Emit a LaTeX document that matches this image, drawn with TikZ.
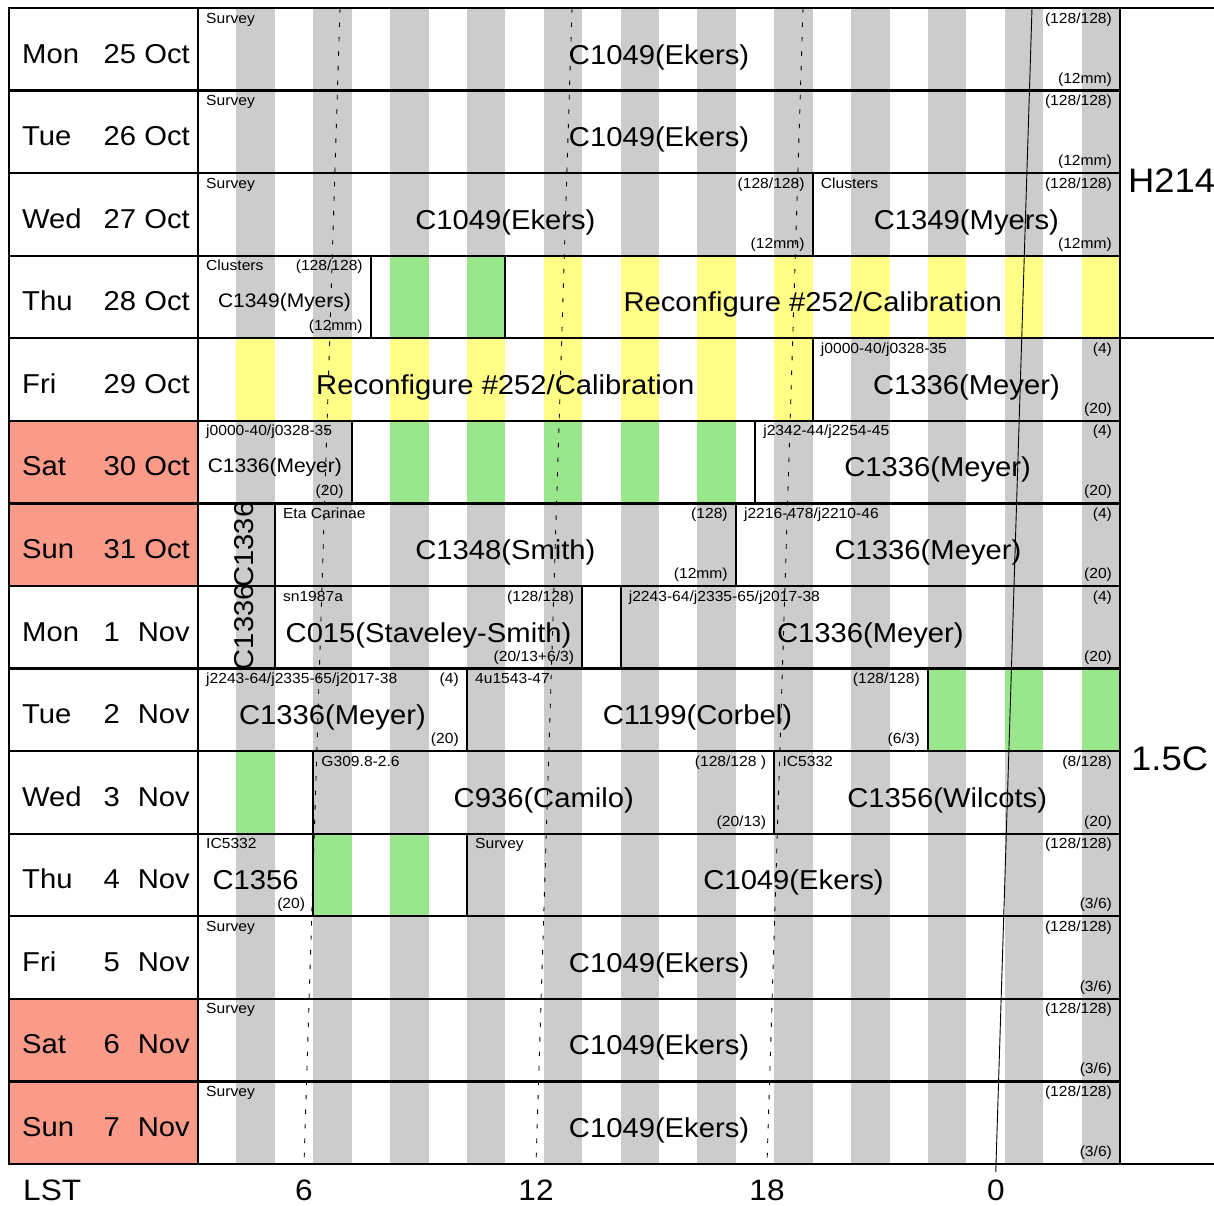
\documentclass[tikz,border=0pt]{standalone}
\usepackage{fontspec}
\setmainfont{Liberation Sans}[FakeStretch=1.07]

\definecolor{weekend}{HTML}{FA9A88}
\definecolor{stripegray}{HTML}{CCCCCC}
\definecolor{freegreen}{HTML}{99E68C}
\definecolor{calyellow}{HTML}{FFFF88}

% hour -> x, row -> y (pixels)
\newcommand{\hx}[1]{198+38.42*(#1)}
\newcommand{\ry}[1]{8+82.57*(#1)}

\tikzset{
	frameline/.style={line width=2.2pt, line cap=rect},
	lstline/.style={line width=0.9pt, dash pattern=on 4.5pt off 10pt},
	smalltext/.style={font=\fontsize{14.6}{17}\selectfont, inner sep=0pt},
	bigtext/.style={font=\fontsize{27.3}{32}\selectfont, inner sep=0pt},
	prjbig/.style={bigtext, anchor=base},
	prjmed/.style={font=\fontsize{19.6}{23}\selectfont, inner sep=0pt, anchor=base, yshift=4pt},
	axistext/.style={font=\fontsize{29.5}{35}\selectfont, inner sep=0pt, anchor=base},
	cfgtext/.style={font=\fontsize{34}{40}\selectfont, inner sep=0pt, anchor=base west},
}

% free time or reconfiguration: white, with coloured hour stripes
\newcommand{\band}[4]{%
	\fill[white] ({\hx{#2}},{\ry{#1}}) rectangle ({\hx{#3}},{\ry{#1+1}});
	\begin{scope}
		\clip ({\hx{#2}},{\ry{#1}}) rectangle ({\hx{#3}},{\ry{#1+1}});
		\foreach \k in {1,3,...,23}
			\fill[#4] ({\hx{\k}},{\ry{#1}}) rectangle ({\hx{\k+1}},{\ry{#1+1}});
	\end{scope}}

% one block: [style] name, row, from, to, source, top right, bottom right, project
\newcommand{\obs}[9][prjbig]{%
	\coordinate (#2) at ({\hx{#4}},{\ry{#3}});
	\coordinate (#2-se) at ({\hx{#5}},{\ry{#3+1}});
	\draw[frameline] (#2) rectangle (#2-se);
	\node[smalltext, anchor=base west] (#2-src) at ({\hx{#4}+8},{\ry{#3}+15}) {#6};
	\node[smalltext, anchor=base east] (#2-cfg) at ({\hx{#5}-8},{\ry{#3}+15}) {#7};
	\node[smalltext, anchor=base east] (#2-bw) at ({\hx{#5}-8},{\ry{#3}+75}) {#8};
	\node[#1] (#2-prj) at ({(\hx{#4}+\hx{#5})/2},{\ry{#3}+56}) {#9};}

\begin{document}
\begin{tikzpicture}[x=1pt, y=-1pt]
	\useasboundingbox (0,0) rectangle (1214,1205);

	% Weekend cells
	\foreach \r in {5,6,12,13}
		\fill[weekend] (9,{\ry{\r}}) rectangle (198,{\ry{\r+1}});

	% Hour stripes
	\foreach \k in {1,3,...,23}
		\fill[stripegray] ({\hx{\k}},8) rectangle ({\hx{\k+1}},1164);

	% Free time and reconfiguration
	\band{3}{4.5}{8}{freegreen}
	\band{3}{8}{24}{calyellow}
	\band{4}{0}{16}{calyellow}
	\band{5}{4}{14.5}{freegreen}
	\band{7}{10}{11}{freegreen}
	\band{8}{19}{24}{freegreen}
	\band{9}{0}{3}{freegreen}
	\band{10}{3}{7}{freegreen}

	% LST lines
	\foreach \x in {304,536,767}
		\draw[lstline] ({\x+36},8) -- (\x,1164);
	\draw[line width=0.9pt] (1032,8) -- (995.75,1172);

	% Grid
	\foreach \r in {0,...,14}
		\draw[frameline] (9,{\ry{\r}}) -- (1120,{\ry{\r}});
	\draw[frameline] (1120,8) -- (1214,8);
	\draw[frameline] (1120,{\ry{4}}) -- (1214,{\ry{4}});
	\draw[frameline] (1120,1164) -- (1214,1164);
	\foreach \x in {9,198,1120}
		\draw[frameline] (\x,8) -- (\x,1164);

	% Blocks
	\obs{mon25}{0}{0}{24}{Survey}{(128/128)}{(12mm)}{C1049(Ekers)}
	\obs{tue26}{1}{0}{24}{Survey}{(128/128)}{(12mm)}{C1049(Ekers)}
	\obs{wed27a}{2}{0}{16}{Survey}{(128/128)}{(12mm)}{C1049(Ekers)}
	\obs{wed27b}{2}{16}{24}{Clusters}{(128/128)}{(12mm)}{C1349(Myers)}
	\obs[prjmed]{thu28a}{3}{0}{4.5}{Clusters}{(128/128)}{(12mm)}{C1349(Myers)}
	\obs{thu28b}{3}{8}{24}{}{}{}{Reconfigure \#252/Calibration}
	\obs{fri29a}{4}{0}{16}{}{}{}{Reconfigure \#252/Calibration}
	\obs{fri29b}{4}{16}{24}{j0000-40/j0328-35}{(4)}{(20)}{C1336(Meyer)}
	\obs[prjmed]{sat30a}{5}{0}{4}{j0000-40/j0328-35}{}{(20)}{C1336(Meyer)}
	\obs{sat30b}{5}{14.5}{24}{j2342-44/j2254-45}{(4)}{(20)}{C1336(Meyer)}
	\obs{sun31a}{6}{0}{2}{}{}{}{}
	\obs{sun31b}{6}{2}{14}{Eta Carinae}{(128)}{(12mm)}{C1348(Smith)}
	\obs{sun31c}{6}{14}{24}{j2216-478/j2210-46}{(4)}{(20)}{C1336(Meyer)}
	\obs{mon1a}{7}{0}{2}{}{}{}{}
	\obs{mon1b}{7}{2}{10}{sn1987a}{(128/128)}{(20/13+6/3)}{C015(Staveley-Smith)}
	\obs{mon1c}{7}{11}{24}{j2243-64/j2335-65/j2017-38}{(4)}{(20)}{C1336(Meyer)}
	\obs{tue2a}{8}{0}{7}{j2243-64/j2335-65/j2017-38}{(4)}{(20)}{C1336(Meyer)}
	\obs{tue2b}{8}{7}{19}{4u1543-47}{(128/128)}{(6/3)}{C1199(Corbel)}
	\obs{wed3b}{9}{3}{15}{G309.8-2.6}{(128/128 )}{(20/13)}{C936(Camilo)}
	\obs{wed3c}{9}{15}{24}{IC5332}{(8/128)}{(20)}{C1356(Wilcots)}
	\obs{thu4a}{10}{0}{3}{IC5332}{}{(20)}{C1356}
	\obs{thu4c}{10}{7}{24}{Survey}{(128/128)}{(3/6)}{C1049(Ekers)}
	\foreach \r/\nm in {11/fri5, 12/sat6, 13/sun7}
		{\obs{\nm}{\r}{0}{24}{Survey}{(128/128)}{(3/6)}{C1049(Ekers)}}

	% Short blocks, label turned up
	\node[bigtext, rotate=90, anchor=base] (sun31a-rot) at (253,{\ry{6.5}}) {C1336};
	\node[bigtext, rotate=90, anchor=base] (mon1a-rot) at (253,{\ry{7.5}}) {C1336};

	% Days
	\foreach \r/\d/\n/\m in {0/Mon/25/Oct, 1/Tue/26/Oct, 2/Wed/27/Oct, 3/Thu/28/Oct,
			4/Fri/29/Oct, 5/Sat/30/Oct, 6/Sun/31/Oct, 7/Mon/1/Nov, 8/Tue/2/Nov,
			9/Wed/3/Nov, 10/Thu/4/Nov, 11/Fri/5/Nov, 12/Sat/6/Nov, 13/Sun/7/Nov} {
		\node[bigtext, anchor=base west] (day\r) at (22,{\ry{\r}+55}) {\d};
		\node[bigtext, anchor=base west] (num\r) at (103.5,{\ry{\r}+55}) {\n};
		\node[bigtext, anchor=base east] (mon\r) at (190,{\ry{\r}+55}) {\m};
	}

	% Configurations
	\node[cfgtext] (cfgA) at (1128,192) {H214};
	\node[cfgtext] (cfgB) at (1131,770) {1.5C};

	% LST axis
	\node[axistext, anchor=base west] (lst) at (23,1200) {LST};
	\foreach \x/\t in {304/6, 536/12, 767/18, 996/0}
		\node[axistext] (lst\t) at (\x,1200) {\t};
\end{tikzpicture}
\end{document}
